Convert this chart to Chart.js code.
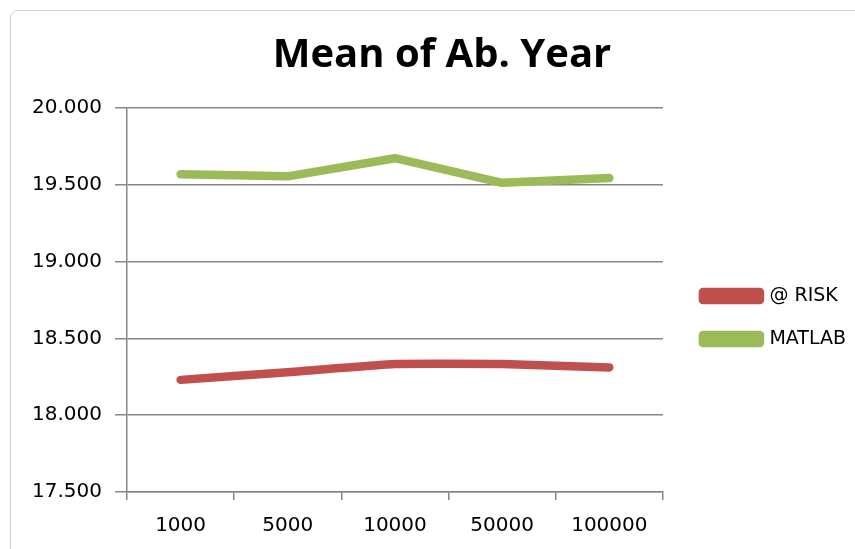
<!DOCTYPE html>
<html>
<head>
<meta charset="utf-8">
<script src="https://cdn.jsdelivr.net/npm/chart.js@4"></script>
<style>
  html, body { margin: 0; padding: 0; background: #fff; }
  #frame {
    position: absolute; left: 10px; top: 10px; width: 860px; height: 560px;
    border: 1px solid #c8d0d8; border-radius: 8px; box-sizing: border-box;
  }
  #wrap { position: absolute; left: 0; top: 0; width: 855px; height: 549px; }
</style>
</head>
<body>
<div id="frame"></div>
<div id="wrap"><canvas id="chart" width="855" height="549"></canvas></div>
<script>
"use strict";

const SAMPLES = ["1000", "5000", "10000", "50000", "100000"];
const RISK = [18.23, 18.28, 18.333, 18.333, 18.311];
const MATLAB = [19.569, 19.555, 19.673, 19.513, 19.544];
const Y_MIN = 17.5;
const Y_MAX = 20.0;
const Y_STEP = 0.5;

const GRID = "#868686";
const TICK_FONT = { family: "DejaVu Sans", size: 20 };

// nudge legend and title, Excel puts them a bit off from where Chart.js would
const boxShift = {
  id: "boxShift",
  afterLayout(chart, args, opts) {
    for (const name of ["legend", "titleBlock"]) {
      const box = chart[name];
      const d = opts[name];
      if (!box || !d) {
        continue;
      }
      box.left += d.dx;
      box.right += d.dx;
      box.top += d.dy;
      box.bottom += d.dy;
    }
  }
};

window.addEventListener("DOMContentLoaded", function() {
  const ctx = document.getElementById("chart").getContext("2d");
  new Chart(ctx, {
    type: "line",
    data: {
      labels: SAMPLES,
      datasets: [
        {
          label: "@ RISK",
          data: RISK,
          borderColor: "#C0504D",
          backgroundColor: "#C0504D",
          borderWidth: 8.5,
          borderCapStyle: "round",
          borderJoinStyle: "round",
          pointRadius: 0,
          tension: 0.1
        },
        {
          label: "MATLAB",
          data: MATLAB,
          borderColor: "#9BBB59",
          backgroundColor: "#9BBB59",
          borderWidth: 8.5,
          borderCapStyle: "round",
          borderJoinStyle: "round",
          pointRadius: 0,
          tension: 0
        }
      ]
    },
    plugins: [boxShift],
    options: {
      responsive: false,
      animation: false,
      layout: { padding: { top: 20, right: 15, bottom: 0, left: 0 } },
      plugins: {
        title: {
          display: true,
          text: "Mean of Ab. Year",
          color: "#000",
          font: { family: "Open Sans", size: 40, weight: "bold" },
          padding: { top: 12, bottom: 28 }
        },
        legend: {
          position: "right",
          labels: {
            color: "#000",
            font: { family: "DejaVu Sans", size: 19 },
            boxWidth: 57,
            boxHeight: 8,
            padding: 24
          }
        },
        boxShift: {
          legend: { dx: 16, dy: 33 },
          titleBlock: { dx: 22, dy: 0 }
        },
        tooltip: { enabled: false }
      },
      scales: {
        x: {
          offset: true,
          grid: {
            offset: true,
            drawOnChartArea: false,
            drawTicks: true,
            tickLength: 8,
            color: GRID,
            lineWidth: 1.5
          },
          border: { color: GRID, width: 1.5 },
          ticks: {
            color: "#000",
            font: TICK_FONT,
            padding: 14,
            maxRotation: 0
          },
          afterFit: function(scale) { scale.height = 57; }
        },
        y: {
          min: Y_MIN,
          max: Y_MAX,
          grid: { color: GRID, tickLength: 12, lineWidth: 1.5 },
          border: { color: GRID, width: 1.5 },
          ticks: {
            stepSize: Y_STEP,
            color: "#000",
            font: TICK_FONT,
            padding: 13,
            callback: function(v) { return v.toFixed(3); }
          },
          afterFit: function(scale) { scale.width = 127; }
        }
      }
    }
  });
});
</script>
</body>
</html>
